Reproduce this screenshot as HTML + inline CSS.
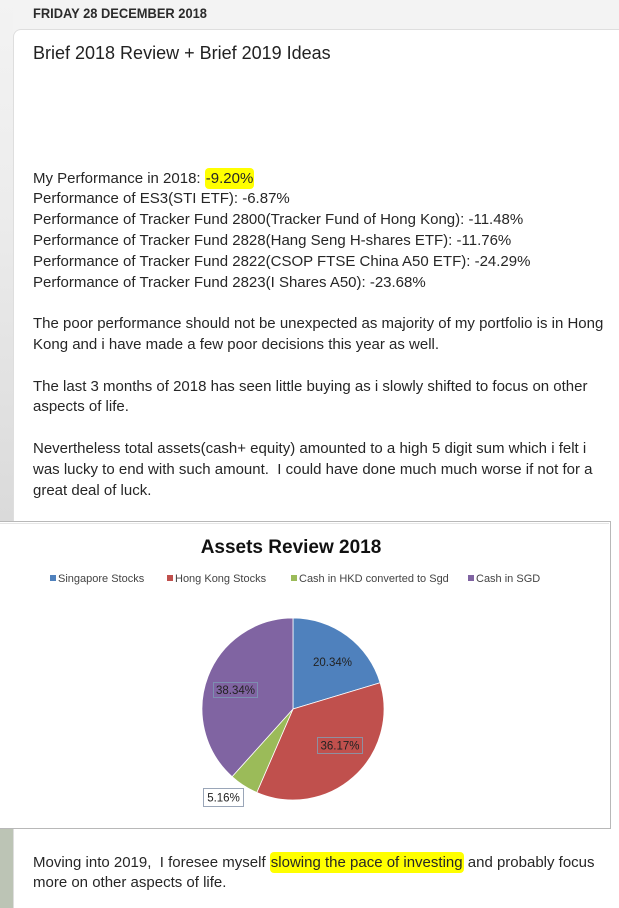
<!DOCTYPE html>
<html>
<head>
<meta charset="utf-8">
<style>
  html,body{margin:0;padding:0;width:619px;height:908px;overflow:hidden;}
  body{position:relative;background:#f3f3f3;font-family:"Liberation Sans",Arial,sans-serif;}
  .strip{position:absolute;left:0;top:0;width:13px;height:521px;background:linear-gradient(#f3f3f3,#ececec 40%,#dadada);}
  .card{position:absolute;left:13px;top:29px;width:620px;height:879px;background:#fff;border-left:1px solid #dedede;border-top:1px solid #dedede;border-top-left-radius:8px;}
  .date{position:absolute;left:33px;top:5px;font-size:14px;line-height:16px;font-weight:bold;color:#2b2b2b;white-space:nowrap;transform:scaleX(0.92);transform-origin:0 0;}
  .title{position:absolute;left:33px;top:42px;font-size:18px;line-height:22px;color:#222;white-space:nowrap;}
  .txt{position:absolute;left:33px;font-size:15px;line-height:20.8px;color:#262626;white-space:nowrap;}
  .hl{background:#ffff00;border-radius:4px;padding:2px 1px;}
</style>
</head>
<body>
<div class="strip"></div>
<div class="card"></div>
<div class="date">FRIDAY 28 DECEMBER 2018</div>
<div class="title">Brief 2018 Review + Brief 2019 Ideas</div>

<div class="txt" style="top:168.6px;">
My Performance in 2018: <span class="hl">-9.20%</span><br>
Performance of ES3(STI ETF): -6.87%<br>
Performance of Tracker Fund 2800(Tracker Fund of Hong Kong): -11.48%<br>
Performance of Tracker Fund 2828(Hang Seng H-shares ETF): -11.76%<br>
Performance of Tracker Fund 2822(CSOP FTSE China A50 ETF): -24.29%<br>
Performance of Tracker Fund 2823(I Shares A50): -23.68%<br>
<br>
The poor performance should not be unexpected as majority of my portfolio is in Hong<br>
Kong and i have made a few poor decisions this year as well.<br>
<br>
The last 3 months of 2018 has seen little buying as i slowly shifted to focus on other<br>
aspects of life.<br>
<br>
Nevertheless total assets(cash+ equity) amounted to a high 5 digit sum which i felt i<br>
was lucky to end with such amount.&nbsp; I could have done much much worse if not for a<br>
great deal of luck.
</div>

<svg style="position:absolute;left:0;top:0;" width="619" height="908" viewBox="0 0 619 908">
  <rect x="0" y="829" width="13" height="79" fill="#bcc4b5"/>
  <rect x="-2" y="521.5" width="612.5" height="307" fill="#ffffff" stroke="#b8b8b8" stroke-width="1"/>
  <line x1="0" y1="523.5" x2="609" y2="523.5" stroke="#e6e6e6" stroke-width="1"/>
  <text x="291" y="553" text-anchor="middle" font-family="Liberation Sans, Arial, sans-serif" font-size="19" font-weight="bold" fill="#111">Assets Review 2018</text>
  <g font-family="Liberation Sans, Arial, sans-serif" font-size="11" fill="#444">
    <rect x="50" y="575" width="6" height="6" fill="#4f81bd"/>
    <text x="58" y="582">Singapore Stocks</text>
    <rect x="167" y="575" width="6" height="6" fill="#c0504d"/>
    <text x="175" y="582">Hong Kong Stocks</text>
    <rect x="291" y="575" width="6" height="6" fill="#9bbb59"/>
    <text x="299" y="582">Cash in HKD converted to Sgd</text>
    <rect x="468" y="575" width="6" height="6" fill="#8064a2"/>
    <text x="476" y="582">Cash in SGD</text>
  </g>
  <g stroke="#ffffff" stroke-width="0.8">
    <path d="M293,709 L293,618 A91,91 0 0 1 380.12,682.73 Z" fill="#4f81bd"/>
    <path d="M293,709 L380.12,682.73 A91,91 0 0 1 256.80,792.49 Z" fill="#c0504d"/>
    <path d="M293,709 L256.80,792.49 A91,91 0 0 1 232.11,776.62 Z" fill="#9bbb59"/>
    <path d="M293,709 L232.11,776.62 A91,91 0 0 1 293,618 Z" fill="#8064a2"/>
  </g>
  <g font-family="Liberation Sans, Arial, sans-serif" font-size="11.5" fill="#222">
    <text x="332.5" y="666" text-anchor="middle">20.34%</text>
    <rect x="213.5" y="682.5" width="44" height="15" fill="none" stroke="#7d8fb0" stroke-width="1"/>
    <text x="235.5" y="694" text-anchor="middle">38.34%</text>
    <rect x="317.5" y="737.5" width="45" height="16" fill="none" stroke="#8f8fa0" stroke-width="1"/>
    <text x="340" y="749.5" text-anchor="middle">36.17%</text>
    <rect x="203.5" y="788.5" width="40" height="18" fill="#ffffff" stroke="#9aa6b8" stroke-width="1"/>
    <text x="223.5" y="801.5" text-anchor="middle">5.16%</text>
  </g>
</svg>

<div class="txt" style="top:852.6px;">
Moving into 2019,&nbsp; I foresee myself <span class="hl">slowing the pace of investing</span> and probably focus<br>
more on other aspects of life.
</div>
</body>
</html>
